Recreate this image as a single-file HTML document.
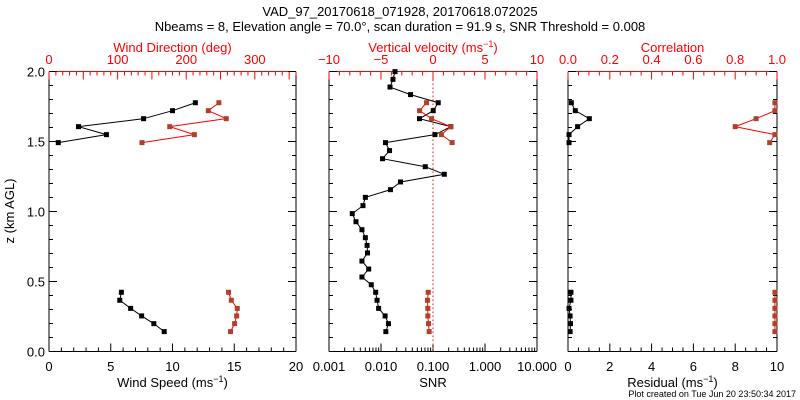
<!DOCTYPE html>
<html><head><meta charset="utf-8"><style>
body{margin:0;background:#fff}
svg{display:block;font-family:"Liberation Sans",sans-serif}
</style></head><body>
<svg id="chart" width="800" height="400" viewBox="0 0 800 400" xmlns="http://www.w3.org/2000/svg">
<rect width="800" height="400" fill="#fff"/>
<text x="400" y="16" text-anchor="middle" font-size="13">VAD_97_20170618_071928, 20170618.072025</text>
<text x="400" y="31" text-anchor="middle" font-size="13">Nbeams = 8, Elevation angle = 70.0°, scan duration = 91.9 s, SNR Threshold = 0.008</text>
<text x="796" y="397" text-anchor="end" font-size="9">Plot created on Tue Jun 20 23:50:34 2017</text>
</svg>
<script>
// heights (km)
const zUpper=[1.777,1.720,1.663,1.606,1.549,1.492];
const zLower=[0.423,0.366,0.308,0.254,0.199,0.142];
const zSnr=[1.999,1.944,1.889,1.835,1.777,1.720,1.663,1.606,1.549,1.492,1.435,1.377,1.320,1.266,1.211,1.156,1.101,1.042,0.985,0.927,0.870,0.813,0.758,0.704,0.646,0.589,0.532,0.477,0.423,0.366,0.308,0.254,0.199,0.142];
// wind speed / direction
const speedUpper=[11.85,10.0,7.66,2.39,4.65,0.75];
const speedLower=[5.86,5.73,6.61,7.5,8.49,9.33];
const dirUpper=[247.6,232.2,258.3,176,211.9,135.5];
const dirLower=[261.7,265.7,274.4,273.5,270.5,264.6];
// SNR and vertical velocity
const snr=[0.0186,0.017,0.0149,0.037,0.126,0.101,0.055,0.22,0.109,0.0122,0.0146,0.0107,0.071,0.165,0.0237,0.0152,0.005,0.0045,0.0028,0.0033,0.0043,0.005,0.0054,0.0055,0.0043,0.0058,0.0043,0.0065,0.0079,0.0084,0.009,0.012,0.0139,0.0124];
const wUpper=[-0.62,-1.29,-0.14,1.7,0.81,1.84];
const wLower=[-0.46,-0.53,-0.5,-0.5,-0.43,-0.37];
// residual / correlation
const resUpper=[0.16,0.35,1.02,0.46,0.05,0.05];
const resLower=[0.14,0.14,0.05,0.1,0.12,0.1];
const corUpper=[0.99,0.99,0.90,0.80,0.99,0.965];
const corLower=[0.99,0.99,0.99,0.99,0.99,0.99];
// tick labels
const zTicks=["0.0","0.5","1.0","1.5","2.0"];
const speedTicks=["0","5","10","15","20"];
const dirTicks=["0","100","200","300"];
const snrTicks=["0.001","0.010","0.100","1.000","10.000"];
const wTicks=["\u221210","\u22125","0","5","10"];
const resTicks=["0","2","4","6","8","10"];
const corTicks=["0.0","0.2","0.4","0.6","0.8","1.0"];

const S=document.getElementById('chart'),NS='http://www.w3.org/2000/svg';
const RED='#ff0000',BRN='#b0402a';
function el(t,a,p){const e=document.createElementNS(NS,t);for(const k in a)e.setAttribute(k,a[k]);(p||S).appendChild(e);return e;}
const T=71.5,B=351.5;
const yS=z=>B-(z/2)*(B-T);
const lin=(d0,d1,r0,r1)=>v=>r0+(v-d0)/(d1-d0)*(r1-r0);
const P=[{l:49,r:296},{l:329,r:537},{l:568,r:777}];
function frame(p,name){
  el('line',{x1:p.l,y1:T,x2:p.l,y2:B,stroke:'#000'});
  el('line',{x1:p.r,y1:T,x2:p.r,y2:B,stroke:'#000'});
  el('line',{x1:p.l,y1:B,x2:p.r,y2:B,stroke:'#000'});
  el('line',{x1:p.l,y1:T,x2:p.r,y2:T,stroke:RED});
  for(let i=0;i<=20;i++){const y=yS(i*0.1),L=i%5==0?8:4;
    el('line',{x1:p.l,y1:y,x2:p.l+L,y2:y,stroke:'#000'});el('line',{x1:p.r,y1:y,x2:p.r-L,y2:y,stroke:'#000'});}
}
function txt(x,y,s,fill,size,anchor,name){const t=el('text',{x:x,y:y,fill:fill,'font-size':size,'text-anchor':anchor||'middle'});t.textContent=s;
  
  return t;}
function titleSup(x,y,pre,fill,name){const t=el('text',{x:x,y:y,fill:fill,'font-size':13,'text-anchor':'middle'});
  
  
  t.appendChild(document.createTextNode(pre+' (ms'));const s=el('tspan',{dy:-5,'font-size':9},t);s.textContent='\u22121';
  const c=el('tspan',{dy:5},t);c.textContent=')';}
function series(xs,zs,sx,color,mk,name){
  const pts=xs.map((v,i)=>[sx(v),yS(zs[i])]);
  const pl=el('polyline',{points:pts.map(p=>p.join(',')).join(' '),fill:'none',stroke:color,'stroke-width':1});
  
  
  pts.forEach(p=>{const r=el('rect',{x:p[0]-2.5,y:p[1]-2.5,width:5,height:5,fill:mk});
    
    });
}
// Y axis labels
zTicks.forEach((s,i)=>txt(45,yS(i*0.5)+5,s,'#000',13,'end','y-tick-label'));
const yt=txt(0,0,'z (km AGL)','#000',13,'middle','y-axis-title');yt.setAttribute('transform','translate(14,211) rotate(-90)');

// Panel 1
let p=P[0];frame(p,'wind-panel');
const sx1=lin(0,20,p.l,p.r),dx1=lin(0,360,p.l,p.r);
for(let i=0;i<=20;i++){const x=sx1(i);el('line',{x1:x,y1:B,x2:x,y2:B-(i%5==0?8:4),stroke:'#000'});}
speedTicks.forEach((s,i)=>txt(sx1(i*5),371,s,'#000',13,'middle','speed-tick-label'));
for(let i=0;i<=36;i++){const x=dx1(i*10);el('line',{x1:x,y1:T,x2:x,y2:T+(i%5==0?8:4),stroke:RED});}
dirTicks.forEach((s,i)=>txt(dx1(i*100),64,s,RED,13,'middle','direction-tick-label'));
titleSup((p.l+p.r)/2,387,'Wind Speed','#000','wind-speed-axis-title');
txt((p.l+p.r)/2,52,'Wind Direction (deg)',RED,13,'middle','wind-direction-axis-title');
series(speedUpper,zUpper,sx1,'#000','#000','speed-upper');
series(speedLower,zLower,sx1,'#000','#000','speed-lower');
series(dirUpper,zUpper,dx1,RED,BRN,'direction-upper');
series(dirLower,zLower,dx1,RED,BRN,'direction-lower');

// Panel 2
p=P[1];frame(p,'snr-panel');
const lx=v=>p.l+(Math.log10(v)+3)/4*(p.r-p.l);
const sx2=v=>lx(v);const wx=lin(-10,10,p.l,p.r);
for(let d=-3;d<1;d++)for(let m=1;m<=10;m++){const x=lx(m*Math.pow(10,d));el('line',{x1:x,y1:B,x2:x,y2:B-(m==1||m==10?8:4),stroke:'#000'});}
snrTicks.forEach((s,i)=>txt(lx(Math.pow(10,i-3)),371,s,'#000',13,'middle','snr-tick-label'));
for(let i=-10;i<=10;i++){const x=wx(i);el('line',{x1:x,y1:T,x2:x,y2:T+(i%5==0?8:4),stroke:RED});}
wTicks.forEach((s,i)=>txt(wx(-10+i*5),64,s,RED,13,'middle','velocity-tick-label'));
txt((p.l+p.r)/2,387,'SNR','#000',13,'middle','snr-axis-title');
titleSup((p.l+p.r)/2,52,'Vertical velocity',RED,'vertical-velocity-axis-title');
const zl=el('line',{x1:wx(0),y1:T,x2:wx(0),y2:B,stroke:RED,'stroke-dasharray':'1.5,2.5'});

series(snr,zSnr,sx2,'#000','#000','snr');
series(wUpper,zUpper,wx,RED,BRN,'velocity-upper');
series(wLower,zLower,wx,RED,BRN,'velocity-lower');

// Panel 3
p=P[2];frame(p,'residual-panel');
const rx=lin(0,10,p.l,p.r),cx=lin(0,1,p.l,p.r);
for(let i=0;i<=20;i++){const x=rx(i*0.5);el('line',{x1:x,y1:B,x2:x,y2:B-(i%4==0?8:4),stroke:'#000'});}
resTicks.forEach((s,i)=>txt(rx(i*2),371,s,'#000',13,'middle','residual-tick-label'));
for(let i=0;i<=20;i++){const x=cx(i*0.05);el('line',{x1:x,y1:T,x2:x,y2:T+(i%4==0?8:4),stroke:RED});}
corTicks.forEach((s,i)=>txt(cx(i*0.2),64,s,RED,13,'middle','correlation-tick-label'));
titleSup((p.l+p.r)/2,387,'Residual','#000','residual-axis-title');
txt((p.l+p.r)/2,52,'Correlation',RED,13,'middle','correlation-axis-title');
series(resUpper,zUpper,rx,'#000','#000','residual-upper');
series(resLower,zLower,rx,'#000','#000','residual-lower');
series(corUpper,zUpper,cx,RED,BRN,'correlation-upper');
series(corLower,zLower,cx,RED,BRN,'correlation-lower');
</script>
</body></html>
